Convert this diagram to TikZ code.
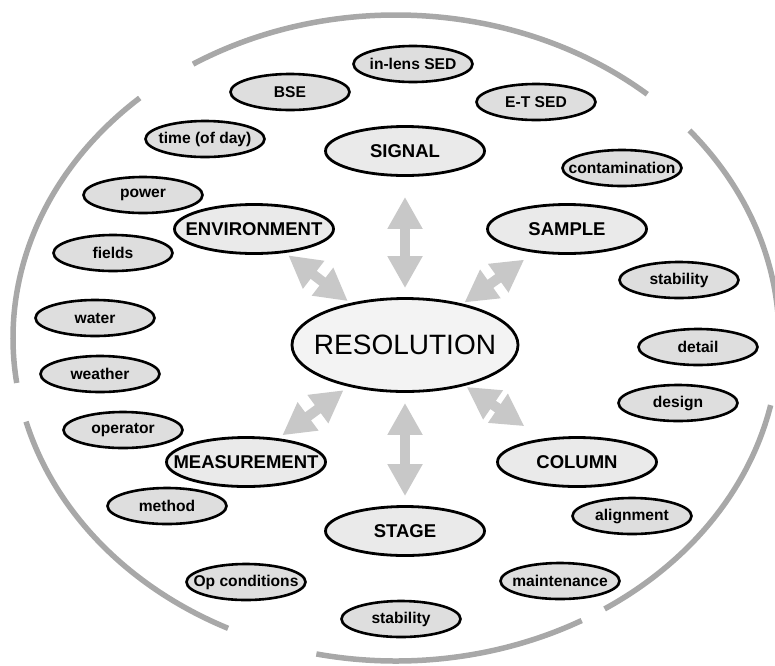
\documentclass[tikz,border=0pt]{standalone}
\usepackage{fontspec}
\setmainfont{Liberation Sans}
\usetikzlibrary{arrows.meta,shapes.geometric}
\definecolor{ink}{HTML}{000000}
\definecolor{rimgray}{HTML}{A8A8A8}
\definecolor{linkgray}{HTML}{C8C8C8}
\definecolor{factorfill}{HTML}{DEDEDE}
\definecolor{topicfill}{HTML}{EAEAEA}
\definecolor{corefill}{HTML}{F3F3F3}
\tikzset{
  factor/.style={ellipse,draw=ink,fill=factorfill,line width=2.6pt,inner sep=-40pt,minimum width=119pt,minimum height=36pt,font=\fontsize{15.6}{18}\selectfont\bfseries},
  topic/.style={ellipse,draw=ink,fill=topicfill,line width=2.8pt,inner sep=-40pt,minimum width=159pt,minimum height=49pt,font=\fontsize{18.5}{22}\selectfont\bfseries},
  core/.style={ellipse,draw=ink,fill=corefill,line width=2.8pt,inner sep=-60pt,minimum width=226pt,minimum height=93pt,font=\fontsize{28}{32}\selectfont},
  link/.style={{Triangle[width=33pt,length=32pt]}-{Triangle[width=33pt,length=32pt]},line width=10pt,draw=linkgray},
  rim/.style={draw=rimgray,line width=5.5pt}
}

\begin{document}
\begin{tikzpicture}[x=1pt,y=1pt]
    \useasboundingbox (0,0) rectangle (775,-665);

    % outer rim, broken into arcs
    \coordinate (mid) at (396,-338);
    \draw[rim] (mid) ++(49:383 and 323) arc[start angle=49,end angle=122,x radius=383,y radius=323];
    \draw[rim] (mid) ++(132:383 and 323) arc[start angle=132,end angle=188,x radius=383,y radius=323];
    \draw[rim] (mid) ++(195:383 and 323) arc[start angle=195,end angle=244,x radius=383,y radius=323];
    \draw[rim] (mid) ++(258:383 and 323) arc[start angle=258,end angle=299,x radius=383,y radius=323];
    \draw[rim] (mid) ++(-57:383 and 323) arc[start angle=-57,end angle=-12,x radius=383,y radius=323];
    \draw[rim] (mid) ++(-1:383 and 323) arc[start angle=-1,end angle=40,x radius=383,y radius=323];

    \node[core] (res) at (405,-345) {RESOLUTION};

    \node[topic] (sig) at (405,-151) {SIGNAL};
    \node[topic] (sam) at (567,-229) {SAMPLE};
    \node[topic] (col) at (577,-462) {COLUMN};
    \node[topic] (stg) at (405,-531) {STAGE};
    \node[topic] (meas) at (246,-462) {MEASUREMENT};
    \node[topic] (env) at (254,-229) {ENVIRONMENT};

    \node[factor] (inlens) at (413,-64) {in-lens SED};
    \node[factor] (etsed) at (536,-102) {E-T SED};
    \node[factor] (bse) at (290,-92) {BSE};
    \node[factor] (time) at (205,-139) {time (of day)};
    \node[factor] (power) at (143,-195) {power};
    \node[factor] (fields) at (113,-253) {fields};
    \node[factor] (water) at (95,-318) {water};
    \node[factor] (weather) at (100,-374) {weather};
    \node[factor] (operator) at (123,-430) {operator};
    \node[factor] (method) at (167,-506) {method};
    \node[factor] (opcond) at (246,-582) {Op conditions};
    \node[factor] (stgstab) at (401,-619) {stability};
    \node[factor] (maint) at (560,-581) {maintenance};
    \node[factor] (align) at (632,-516) {alignment};
    \node[factor] (design) at (678,-403) {design};
    \node[factor] (detail) at (698,-347) {detail};
    \node[factor] (samstab) at (679,-280) {stability};
    \node[factor] (contam) at (622,-168) {contamination};

    \draw[link,shorten <=9pt,shorten >=20pt] (res) -- (sig);
    \draw[link,shorten <=10pt,shorten >=9pt] (res) -- (stg);
    \draw[link,shorten <=3pt,shorten >=4pt] (res) -- (env);
    \draw[link,shorten <=2pt,shorten >=12pt] (res) -- (sam);
    \draw[link,shorten <=6pt,shorten >=5pt] (res) -- (meas);
    \draw[link,shorten <=2pt,shorten >=22pt] (res) -- (col);
\end{tikzpicture}
\end{document}
